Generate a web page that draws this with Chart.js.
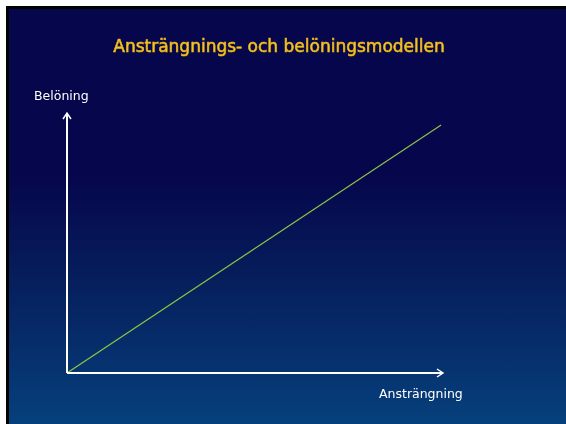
<!DOCTYPE html>
<html>
<head>
<meta charset="utf-8">
<script src="https://cdn.jsdelivr.net/npm/chart.js@4"></script>
<style>
    body { margin: 0; background: #fff; }
    #slide {
        position: absolute; left: 6px; top: 6px;
        width: 557px; height: 415px;
        border-left: 3px solid #000; border-top: 3px solid #000;
        background: linear-gradient(#06064c 0%, #06064c 40%, #061e5c 65%, #06407c 100%);
    }
    canvas { display: block; }
</style>
</head>
<body>
<div id="slide"><canvas id="modelChart" width="557" height="415"></canvas></div>
<script>
// Chart data
const titleText = 'Ansträngnings- och belöningsmodellen';
const xLabel = 'Ansträngning';
const yLabel = 'Belöning';
const effort = [0, 99.5];
const reward = [0, 95.4];

// Axes with arrows, title and axis labels
const slidePlugin = {
    id: 'slideDecor',
    afterDraw(chart) {
        const ctx = chart.ctx;
        const a = chart.chartArea;
        ctx.save();
        ctx.strokeStyle = '#ffffff';
        ctx.lineWidth = 2;
        ctx.beginPath();
        ctx.moveTo(a.left, a.bottom);
        ctx.lineTo(a.right, a.bottom);
        ctx.moveTo(a.left, a.bottom);
        ctx.lineTo(a.left, a.top);
        ctx.stroke();
        ctx.lineWidth = 1.5;
        ctx.beginPath();
        ctx.moveTo(a.right - 6, a.bottom - 4);
        ctx.lineTo(a.right, a.bottom);
        ctx.lineTo(a.right - 6, a.bottom + 4);
        ctx.moveTo(a.left - 4, a.top + 6);
        ctx.lineTo(a.left, a.top);
        ctx.lineTo(a.left + 4, a.top + 6);
        ctx.stroke();

        ctx.fillStyle = '#ffffff';
        ctx.font = '12.5px "DejaVu Sans"';
        ctx.textBaseline = 'middle';
        ctx.textAlign = 'left';
        ctx.fillText(yLabel, 25, 88);
        ctx.fillText(xLabel, 370, 386);

        ctx.font = '17px "DejaVu Sans"';
        ctx.textAlign = 'center';
        ctx.fillStyle = '#1a1a1a';
        ctx.fillText(titleText, 271, 40);
        ctx.fillStyle = '#f5c830';
        ctx.strokeStyle = '#e8b020';
        ctx.lineWidth = 0.6;
        ctx.fillText(titleText, 270, 39);
        ctx.strokeText(titleText, 270, 39);
        ctx.restore();
    }
};

const ctx = document.getElementById('modelChart').getContext('2d');
new Chart(ctx, {
    type: 'line',
    data: {
        datasets: [{
            data: effort.map((x, i) => ({ x: x, y: reward[i] })),
            borderColor: '#8cc63f',
            borderWidth: 1.2,
            pointRadius: 0,
            fill: false,
            tension: 0
        }]
    },
    options: {
        responsive: false,
        animation: false,
        layout: { padding: { left: 58, right: 123, top: 104, bottom: 51 } },
        plugins: { legend: { display: false }, tooltip: { enabled: false } },
        scales: {
            x: { type: 'linear', min: 0, max: 100, display: false },
            y: { min: 0, max: 100, display: false }
        }
    },
    plugins: [slidePlugin]
});
</script>
</body>
</html>
